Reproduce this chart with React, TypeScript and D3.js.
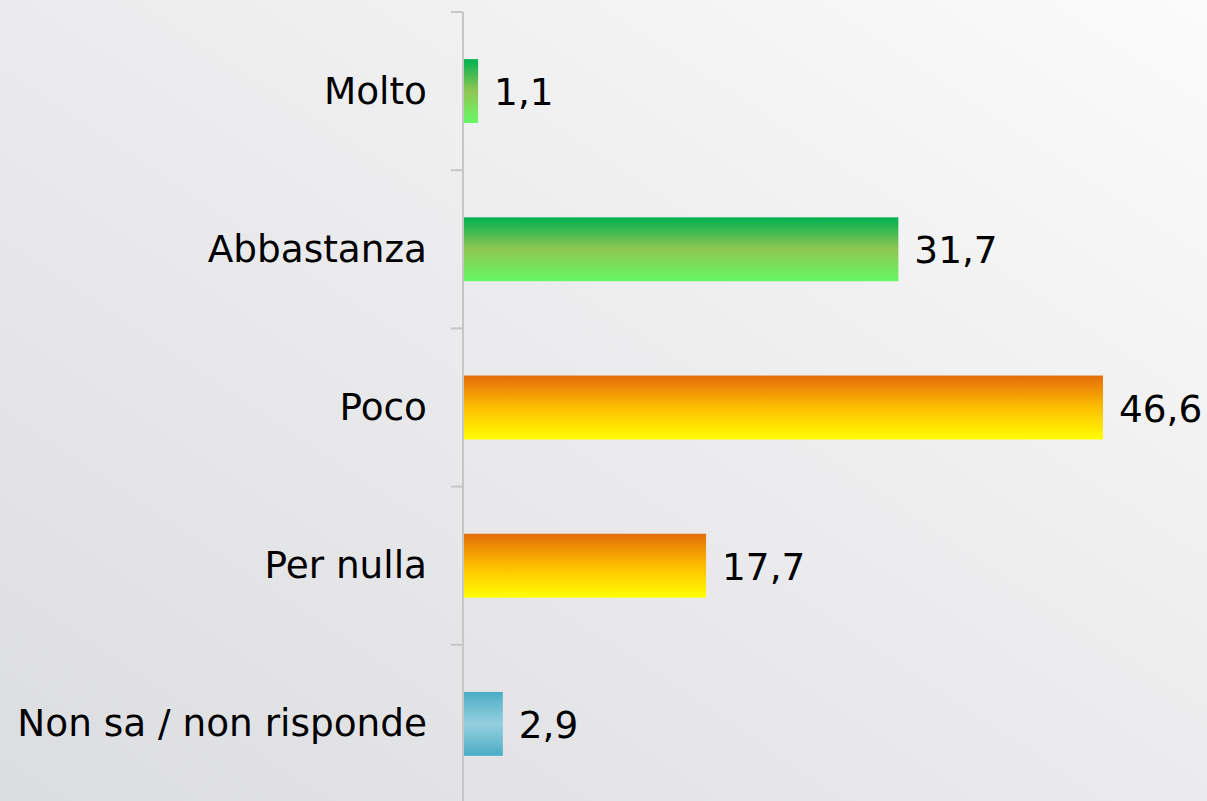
import React from "react";
import * as d3 from "d3";

const categories = ["Molto", "Abbastanza", "Poco", "Per nulla", "Non sa / non risponde"];
const values = [1.1, 31.7, 46.6, 17.7, 2.9];
const fills = ["green", "green", "orange", "orange", "blue"];

const W = 1207;
const H = 801;

export default function App() {
  const x0 = 463;
  const x = d3.scaleLinear().domain([0, 46.6]).range([x0, 1103]);
  const y = d3.scaleBand<string>().domain(categories).range([12, 803]).paddingInner(0.596).paddingOuter(0.298);
  const fontSize = 37.4;
  const font = "DejaVu Sans, Verdana, sans-serif";
  const ticks = d3.range(categories.length + 1).map((i) => 12 + (i * (803 - 12)) / categories.length);

  return (
    <div style={{ position: "absolute", left: 0, top: 0, width: W, height: H, overflow: "hidden" }}>
      <svg width={W} height={H} style={{ display: "block" }}>
        <defs>
          <linearGradient id="bg" x1="0" y1="1" x2="1" y2="0">
            <stop offset="0" stopColor="#dcdde0" />
            <stop offset="0.5" stopColor="#ebebed" />
            <stop offset="1" stopColor="#fbfbfb" />
          </linearGradient>
          <linearGradient id="green" x1="0" y1="0" x2="0" y2="1">
            <stop offset="0" stopColor="#00b050" />
            <stop offset="0.5" stopColor="#8fc653" />
            <stop offset="1" stopColor="#66f866" />
          </linearGradient>
          <linearGradient id="orange" x1="0" y1="0" x2="0" y2="1">
            <stop offset="0" stopColor="#e46c0a" />
            <stop offset="0.5" stopColor="#fdbe00" />
            <stop offset="1" stopColor="#ffff00" />
          </linearGradient>
          <linearGradient id="blue" x1="0" y1="0" x2="0" y2="1">
            <stop offset="0" stopColor="#4bacc6" />
            <stop offset="0.5" stopColor="#95cfdf" />
            <stop offset="1" stopColor="#4bacc6" />
          </linearGradient>
        </defs>
        <rect x={0} y={0} width={W} height={H} fill="url(#bg)" />
        <line x1={x0} x2={x0} y1={12} y2={H} stroke="#c6c6c6" strokeWidth={2} />
        {ticks.map((t, i) => (
          <line key={i} x1={451} x2={x0} y1={t} y2={t} stroke="#c6c6c6" strokeWidth={2} />
        ))}
        {categories.map((c, i) => {
          const yy = y(c)!;
          const bw = y.bandwidth();
          const cy = yy + bw / 2;
          return (
            <g key={c}>
              <rect x={x0 + 1} y={yy} width={x(values[i]) - x0 - 1} height={bw} fill={`url(#${fills[i]})`} />
              <text x={427} y={cy + 12.5} textAnchor="end" fontFamily={font} fontSize={fontSize} fill="#000">
                {c}
              </text>
              <text x={x(values[i]) + 16} y={cy + 14} textAnchor="start" fontFamily={font} fontSize={fontSize} fill="#000">
                {values[i].toFixed(1).replace(".", ",")}
              </text>
            </g>
          );
        })}
      </svg>
    </div>
  );
}
